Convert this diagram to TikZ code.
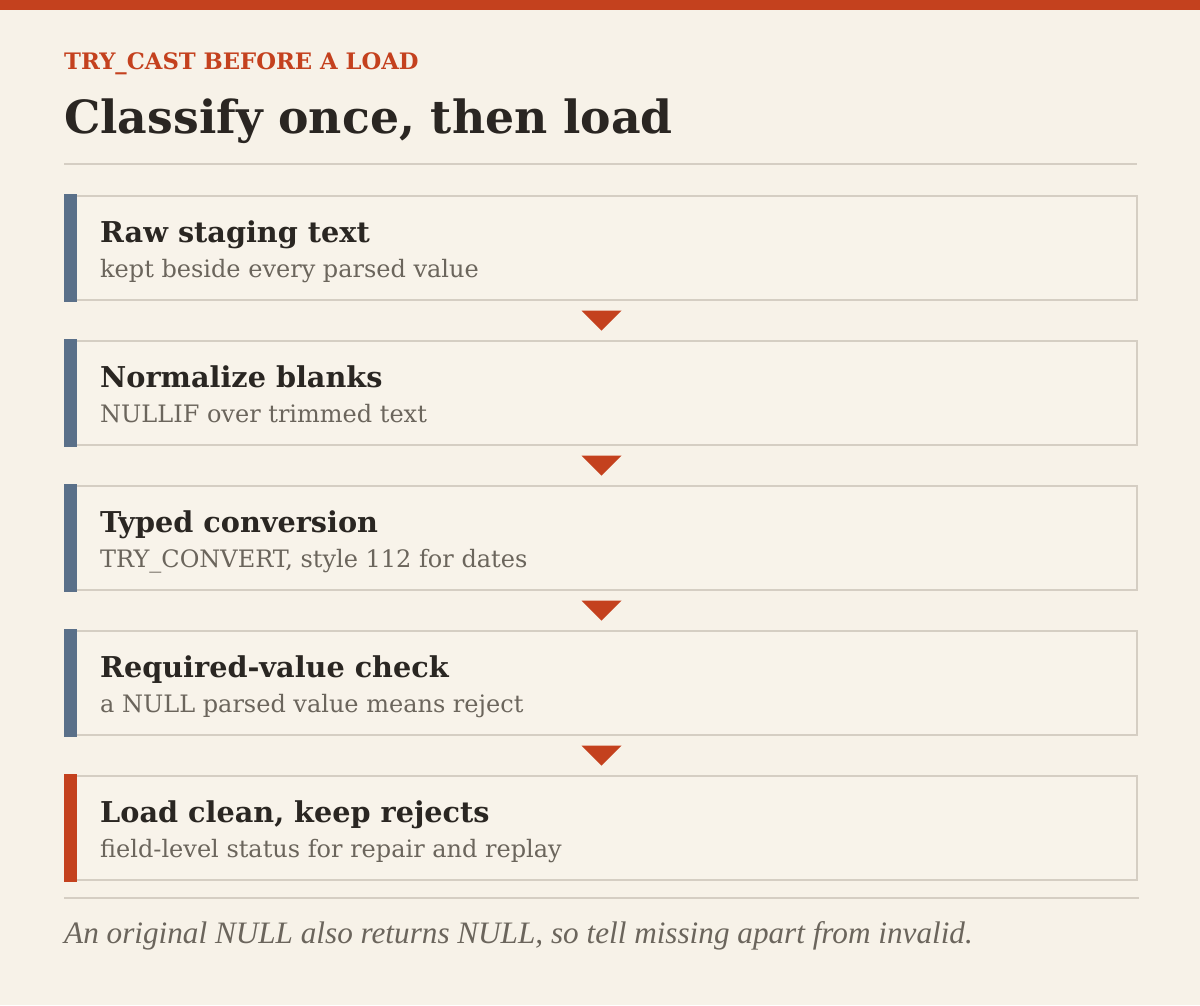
\documentclass[tikz,border=0pt]{standalone}
\usepackage{fontspec}
\setmainfont{DejaVu Serif}
\newfontfamily\notefont{Liberation Serif}
\usetikzlibrary{positioning, calc}

\definecolor{paper}{HTML}{F7F2E8}
\definecolor{boxfill}{HTML}{F8F3EA}
\definecolor{rust}{HTML}{C4411E}
\definecolor{ink}{HTML}{2A2622}
\definecolor{mute}{HTML}{6B655C}
\definecolor{hair}{HTML}{D5CEC3}
\definecolor{slate}{HTML}{5A7089}

\tikzset{
  kicker/.style={inner sep=0, text=rust, font=\bfseries\fontsize{22.7}{26}\selectfont},
  headline/.style={inner sep=0, text=ink, font=\bfseries\fontsize{45.7}{50}\selectfont},
  rule/.style={hair, line width=2},
  stepbox/.style={draw=hair, fill=boxfill, line width=2, inner sep=0,
    minimum width=1071, minimum height=104},
  boxtitle/.style={inner sep=0, text=ink, font=\bfseries\fontsize{28.7}{32}\selectfont},
  boxnote/.style={inner sep=0, text=mute, font=\fontsize{24}{28}\selectfont},
  footnote/.style={inner sep=0, text=mute, font=\notefont\itshape\fontsize{31.2}{34}\selectfont},
}

\begin{document}
\begin{tikzpicture}[x=1pt, y=1pt]
\fill[paper] (0,0) rectangle (1200,-1005);
\fill[rust] (0,0) rectangle (1200,-10);
\node[kicker, anchor=base west] (kick) at (64,-69) {TRY\_CAST BEFORE A LOAD};
\node[headline, anchor=base west] (head) at (64,-133) {Classify once, then load};
\draw[rule] (64,-164) -- (1137,-164);
% the five steps
\foreach \t/\s/\c [count=\i] in {
  {Raw staging text}/{kept beside every parsed value}/slate,
  {Normalize blanks}/{NULLIF over trimmed text}/slate,
  {Typed conversion}/{TRY\_CONVERT, style 112 for dates}/slate,
  {Required-value check}/{a NULL parsed value means reject}/slate,
  {Load clean, keep rejects}/{field-level status for repair and replay}/rust}
{
  \node[stepbox, anchor=north west] (box\i) at (65,{-195-145*(\i-1)}) {};
  \fill[\c] ($(box\i.north west)+(-1,1)$) rectangle ($(box\i.south west)+(12,-1)$);
  \node[boxtitle, anchor=base west] (title\i) at ($(box\i.north west)+(35,-47)$) {\t};
  \node[boxnote, anchor=base west] (note\i) at ($(box\i.north west)+(35,-82)$) {\s};
}
% arrows between steps
\foreach \i [evaluate=\i as \j using int(\i+1)] in {1,...,4}
  \fill[rust] ($(box\i.south)!0.5!(box\j.north)$) +(-20,10) -- +(20,10) -- +(0,-10) -- cycle;
\draw[rule] ($(box5.south west)+(-1,-17)$) -- ($(box5.south east)+(1,-17)$);
\node[footnote, anchor=base west] (foot) at (64,-943)
  {An original NULL also returns NULL, so tell missing apart from invalid.};
\end{tikzpicture}
\end{document}
